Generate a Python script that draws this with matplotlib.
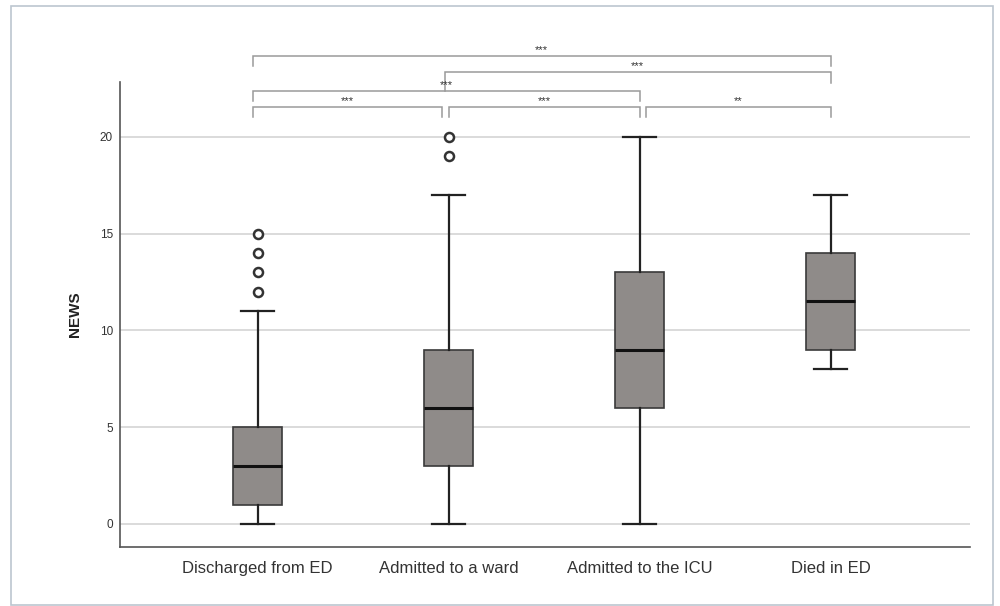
import matplotlib.pyplot as plt
from matplotlib.patches import Rectangle

plt.rcParams['font.family'] = ['Liberation Sans', 'DejaVu Sans']

# box statistics (NEWS score)
groups = ["Discharged from ED", "Admitted to a ward", "Admitted to the ICU", "Died in ED"]
whislo = [0, 0, 0, 8]
q1 = [1, 3, 6, 9]
med = [3, 6, 9, 11.5]
q3 = [5, 9, 13, 14]
whishi = [11, 17, 20, 17]
fliers = [[12, 13, 14, 15], [19, 20], [], []]

# significance brackets: (left group, right group, label)
pairs = [(0, 1, "***"), (1, 2, "***"), (2, 3, "**"),
         (0, 2, "***"), (1, 3, "***"), (0, 3, "***")]
yticks = [0, 5, 10, 15, 20]

stats = []
for i in range(len(groups)):
    stats.append(dict(label=groups[i], whislo=whislo[i], q1=q1[i], med=med[i],
                      q3=q3[i], whishi=whishi[i], fliers=fliers[i]))

fig = plt.figure(figsize=(10, 6.06), dpi=100)
ax = fig.add_axes([0.12, 0.0974, 0.85, 0.7673])

for y in yticks:
    ax.axhline(y, color='#d4d4d4', lw=1.2, zorder=0)

ax.bxp(stats, positions=range(len(groups)), widths=0.26, patch_artist=True,
       boxprops=dict(facecolor='#8f8b89', edgecolor='#3a3a3a', lw=1.2),
       medianprops=dict(color='#111111', lw=2.2),
       whiskerprops=dict(color='#222222', lw=1.6),
       capprops=dict(color='#222222', lw=1.6),
       capwidths=0.17,
       flierprops=dict(marker='o', markersize=6.5, markerfacecolor='white',
                       markeredgecolor='#333333', markeredgewidth=1.8))

ax.set_xlim(-0.72, 3.73)
ax.set_ylim(-1.19, 22.84)
ax.set_yticks(yticks)
ax.tick_params(axis='both', length=0, colors='#333333')
ax.tick_params(axis='y', labelsize=8.5, pad=5)
ax.tick_params(axis='x', labelsize=12, pad=10)
ax.set_ylabel("NEWS", fontsize=11, fontweight='bold', color='#222222', labelpad=13)

for s in ['top', 'right']:
    ax.spines[s].set_visible(False)
for s in ['left', 'bottom']:
    ax.spines[s].set_color('#555555')
    ax.spines[s].set_linewidth(1.2)

# bracket heights (line, left leg end, right leg end)
levels = {(0, 1): (21.55, 21.03, 21.03), (1, 2): (21.55, 21.03, 21.03),
          (2, 3): (21.55, 21.03, 21.03), (0, 2): (22.38, 21.86, 21.86),
          (1, 3): (23.34, 22.38, 22.79), (0, 3): (24.20, 23.67, 23.67)}
for a, b, lab in pairs:
    x1 = a - 0.026 if a == 0 else a + (0.035 if b - a == 1 and a == 2 else -0.02 * (b - a > 1))
    x2 = b - 0.035 if (b - a == 1 and b == 1) else b
    yl, y1, y2 = levels[(a, b)]
    ax.plot([x1, x1, x2, x2], [y1, yl, yl, y2], color='#9a9a9a', lw=1.1,
            clip_on=False, solid_joinstyle='miter')
    ax.text((x1 + x2) / 2, yl + 0.05, lab, ha='center', va='bottom',
            fontsize=8, color='#333333', clip_on=False)

fig.patches.append(Rectangle((10.5 / 1000, 1 / 606), 982 / 1000, 599.5 / 606,
                             transform=fig.transFigure, fill=False,
                             edgecolor='#bcc6d0', lw=1.2))

fig.savefig("out.png", dpi=100)
